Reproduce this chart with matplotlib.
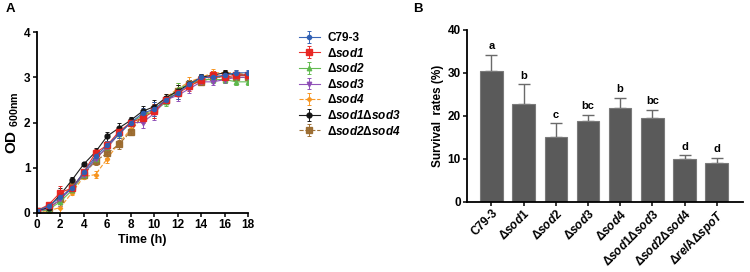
import numpy as np
import matplotlib
matplotlib.use("Agg")
import matplotlib.pyplot as plt

plt.rcParams['font.family'] = ['Liberation Sans', 'DejaVu Sans']
plt.rcParams['font.weight'] = 'bold'
plt.rcParams['mathtext.fontset'] = 'custom'
plt.rcParams['mathtext.rm'] = 'Liberation Sans:bold'
plt.rcParams['mathtext.it'] = 'Liberation Sans:italic'
plt.rcParams['mathtext.bf'] = 'Liberation Sans:bold'
plt.rcParams['mathtext.bfit'] = 'Liberation Sans:italic:bold'

# ---- panel A data: growth curves
time_h = list(range(19))
od_c79 = [0.05, 0.15, 0.35, 0.55, 0.90, 1.25, 1.50, 1.75, 2.00, 2.20, 2.30, 2.50, 2.65, 2.85, 3.00, 3.00, 3.05, 3.10, 3.10]
od_sod1 = [0.05, 0.18, 0.45, 0.55, 0.90, 1.33, 1.50, 1.80, 2.00, 2.10, 2.25, 2.50, 2.65, 2.80, 2.95, 3.05, 3.00, 3.05, 3.05]
od_sod2 = [0.03, 0.07, 0.25, 0.50, 0.85, 1.20, 1.45, 1.75, 2.00, 2.15, 2.25, 2.45, 2.75, 2.85, 2.95, 2.95, 2.95, 2.90, 2.90]
od_sod3 = [0.03, 0.10, 0.30, 0.55, 0.85, 1.20, 1.45, 1.75, 2.00, 2.00, 2.20, 2.50, 2.60, 2.75, 2.90, 2.90, 2.95, 3.00, 3.00]
od_sod4 = [0.02, 0.05, 0.12, 0.45, 0.80, 0.85, 1.20, 1.55, 1.85, 2.15, 2.30, 2.55, 2.75, 2.90, 3.00, 3.10, 3.10, 3.10, 3.05]
od_sod13 = [0.05, 0.12, 0.40, 0.73, 1.08, 1.35, 1.70, 1.88, 2.05, 2.25, 2.35, 2.55, 2.70, 2.85, 3.00, 3.05, 3.10, 3.05, 3.05]
od_sod24 = [0.05, 0.10, 0.30, 0.60, 0.85, 1.15, 1.32, 1.52, 1.80, 2.15, 2.30, 2.50, 2.70, 2.85, 2.90, 3.00, 3.00, 3.00, 3.00]
od_err = [0.03, 0.04, 0.15, 0.06, 0.05, 0.08, 0.10, 0.10, 0.08, 0.12, 0.15, 0.08, 0.12, 0.10, 0.08, 0.08, 0.07, 0.07, 0.06]

labels_a = ['C79-3', 'Δ$\\mathbfit{sod1}$', 'Δ$\\mathbfit{sod2}$', 'Δ$\\mathbfit{sod3}$',
            'Δ$\\mathbfit{sod4}$', 'Δ$\\mathbfit{sod1}$Δ$\\mathbfit{sod3}$', 'Δ$\\mathbfit{sod2}$Δ$\\mathbfit{sod4}$']

# ---- panel B data: survival
strains = ['C79-3', 'Δ$\\mathit{sod1}$', 'Δ$\\mathit{sod2}$', 'Δ$\\mathit{sod3}$', 'Δ$\\mathit{sod4}$',
           'Δ$\\mathit{sod1}$Δ$\\mathit{sod3}$', 'Δ$\\mathit{sod2}$Δ$\\mathit{sod4}$', 'Δ$\\mathit{rel}$AΔ$\\mathit{spoT}$']
survival = [30.5, 22.8, 15.2, 18.8, 21.8, 19.5, 9.9, 9.1]
survival_err = [3.7, 4.6, 3.1, 1.5, 2.4, 1.9, 1.0, 1.2]
letters = ['a', 'b', 'c', 'bc', 'b', 'bc', 'd', 'd']

fig = plt.figure(figsize=(7.5, 2.72), dpi=100)

# ---------------- panel A
ax1 = fig.add_axes([0.049, 0.217, 0.282, 0.665])
series = [od_c79, od_sod1, od_sod2, od_sod3, od_sod4, od_sod13, od_sod24]
colors = ['#2f5fb3', '#e8231f', '#5cb84a', '#8c4bb5', '#f7941d', '#111111', '#9a6a2e']
markers = ['o', 's', '^', 'v', 'D', 'o', 's']
msizes = [3, 4, 3.2, 3.2, 2.2, 3.5, 4]
styles = ['-', '-', '-', '-', '--', '-', '--']
order = [4, 6, 2, 3, 5, 1, 0]
handles = [None] * 7
for i in order:
    h = ax1.errorbar(time_h, series[i], yerr=od_err, color=colors[i], marker=markers[i],
                     markersize=msizes[i], linestyle=styles[i], linewidth=0.8,
                     elinewidth=0.7, capsize=1.5, capthick=0.7, ecolor=colors[i], alpha=0.95)
    handles[i] = h

ax1.set_xlim(0, 18)
ax1.set_ylim(0, 4)
ax1.set_xticks(range(0, 19, 2))
ax1.set_yticks([0, 1, 2, 3, 4])
ax1.set_xlabel('Time (h)', fontsize=9, fontweight='bold', labelpad=2)
ax1.set_ylabel('OD $_{\\mathbf{600nm}}$', fontsize=11, fontweight='bold', labelpad=2)
for s in ['top', 'right']:
    ax1.spines[s].set_visible(False)
for s in ['left', 'bottom']:
    ax1.spines[s].set_linewidth(1.3)
ax1.tick_params(labelsize=8.5, width=1.1, length=3, pad=1.5)

fig.legend(handles, labels_a, loc='upper left', bbox_to_anchor=(0.392, 0.9),
           frameon=False, fontsize=8.5, handlelength=1.8, labelspacing=0.22,
           handletextpad=0.6, borderaxespad=0)

fig.text(0.008, 0.955, 'A', fontsize=9.5, fontweight='bold')

# ---------------- panel B
ax2 = fig.add_axes([0.623, 0.258, 0.367, 0.632])
x = np.arange(len(strains))
ax2.bar(x, survival, width=0.7, color='#5a5a5a', edgecolor='#7a7a7a', linewidth=0.8, zorder=2)
ax2.errorbar(x, survival, yerr=[np.zeros(len(survival)), survival_err], fmt='none',
             ecolor='#6a6a6a', elinewidth=1.0, capsize=4, capthick=1.0, zorder=1)
for xi, v, e, t in zip(x, survival, survival_err, letters):
    ax2.text(xi, v + e + 0.8, t, ha='center', va='bottom', fontsize=8, fontweight='bold')

ax2.set_xlim(-0.75, 7.8)
ax2.set_ylim(0, 40)
ax2.set_yticks([0, 10, 20, 30, 40])
ax2.set_xticks(x)
ax2.set_xticklabels(strains, rotation=45, ha='right', rotation_mode='anchor', fontsize=8)
ax2.set_ylabel('Survival  rates (%)', fontsize=8.5, fontweight='bold', labelpad=3)
for s in ['top', 'right']:
    ax2.spines[s].set_visible(False)
for s in ['left', 'bottom']:
    ax2.spines[s].set_linewidth(1.3)
ax2.tick_params(labelsize=8.5, width=1.1, length=3, pad=1.5)
ax2.tick_params(axis='x', pad=1)

fig.text(0.551, 0.955, 'B', fontsize=9.5, fontweight='bold')

fig.savefig('out.png', dpi=100)
